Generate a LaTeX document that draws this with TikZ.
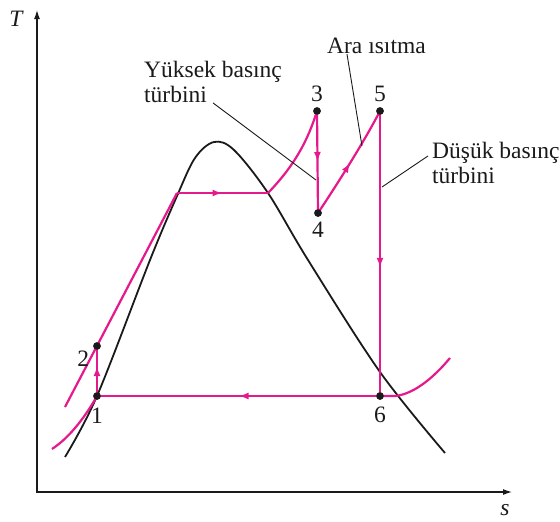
\documentclass[tikz,border=0pt]{standalone}
\usepackage{fontspec}
\setmainfont{Liberation Serif}
\usepackage{xcolor}
\usetikzlibrary{arrows.meta,positioning,decorations.markings}
\definecolor{TSPink}{HTML}{E6198C}
\definecolor{TSDark}{HTML}{1A1A1A}
\begin{document}
\begin{tikzpicture}[x=1pt,y=-1pt,>=Latex,font=\fontsize{23.5}{25}\selectfont]
\tikzset{cyc/.style={draw=TSPink,line width=2.2pt},dome/.style={draw=TSDark,line width=1.8pt},leader/.style={draw=TSDark,line width=0.9pt},dot/.style={circle,fill=TSDark,minimum size=7.5pt,inner sep=0pt},lbl/.style={inner sep=0pt,text=TSDark},txt/.style={inner sep=0pt,align=left,anchor=north west,text=TSDark},midarr/.style={postaction={decorate,decoration={markings,mark=at position #1 with {\arrow{Latex[length=10pt,width=7pt]}}}}},midarr/.default=.5}
\useasboundingbox (0,0) rectangle (560,522);
% axes
\draw[line width=1.2pt,TSDark,{Latex[length=9pt,width=6pt]}-{Latex[length=9pt,width=6pt]}] (37,10) |- (512,492);
\node[lbl,font=\fontsize{23.5}{25}\selectfont\itshape] (tT) at (16,19) {T};
\node[lbl,font=\fontsize{23.5}{25}\selectfont\itshape] (ts) at (505,510) {s};
% saturation dome
\draw[dome] plot[smooth,tension=.55] coordinates {(65,457) (97,396) (150,260) (177,196) (195,158) (214,142) (234,150) (268,193) (308,260) (380,372) (445,453)};
% states
\node[dot] (p1) at (97,396) {};
\node[dot] (p2) at (97,346) {};
\node[dot] (p3) at (317,111) {};
\node[dot] (p4) at (318,213) {};
\node[dot] (p5) at (380,111) {};
\node[dot] (p6) at (380,396) {};
\coordinate (sl) at (177,193);
\coordinate (sv) at (268,193);
% cycle
\draw[cyc] (65,407) -- (sl);
\draw[cyc,midarr] (sl) -- (sv);
\draw[cyc] (sv) .. controls (295,165) and (308,140) .. (p3.center);
\draw[cyc,midarr] (p3.center) -- (p4.center);
\draw[cyc,midarr] (p4.center) .. controls (340,180) and (365,140) .. (p5.center);
\draw[cyc,midarr=.55] (p5.center) -- (p6.center);
\draw[cyc,midarr=.5] (p6.center) -- (p1.center);
\draw[cyc,midarr=.6] (p1.center) -- (p2.center);
\draw[cyc] (52,449) .. controls (72,436) and (88,412) .. (p1.center);
\draw[cyc] (p6.center) -- (395,396) .. controls (415,394) and (435,376) .. (450,358);
\node[dot] at (p1) {};\node[dot] at (p2) {};\node[dot] at (p3) {};
\node[dot] at (p4) {};\node[dot] at (p5) {};\node[dot] at (p6) {};
% state numbers
\node[lbl,below=8pt of p1] {1};
\node[lbl,below left=2pt and 5pt of p2] {2};
\node[lbl,above=5pt of p3] {3};
\node[lbl,below=5pt of p4] {4};
\node[lbl,above=5pt of p5] {5};
\node[lbl,below=7pt of p6] {6};
% labels
\node[txt] (hp) at (144,61) {Yüksek basınç\\türbini};
\node[txt] (rh) at (327,38) {Ara ısıtma};
\node[txt] (lp) at (432,142) {Düşük basınç\\türbini};
\coordinate (hpend) at (316,180);
\coordinate (rhend) at (362,146);
\coordinate (lpend) at (382,187);
\draw[leader] (hp.south) -- (hpend);
\draw[leader] ([xshift=20pt]rh.south west) -- (rhend);
\draw[leader] ([xshift=-4pt,yshift=7pt]lp.west) -- (lpend);
\end{tikzpicture}
\end{document}
